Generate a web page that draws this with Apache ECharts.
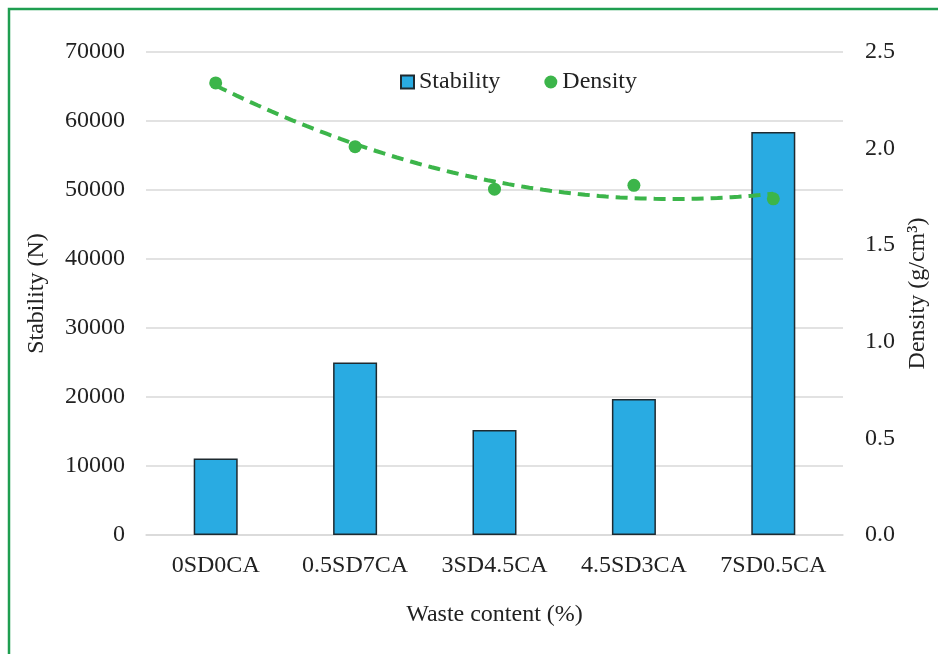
<!DOCTYPE html>
<html>
<head>
<meta charset="utf-8">
<script src="https://cdn.jsdelivr.net/npm/echarts@6/dist/echarts.min.js"></script>
<style>
  html, body { margin: 0; padding: 0; background: #fff; }
  #chart { width: 938px; height: 654px; }
</style>
</head>
<body>
<div id="chart"></div>
<script>
// Mix designations
const categories = ['0SD0CA', '0.5SD7CA', '3SD4.5CA', '4.5SD3CA', '7SD0.5CA'];
// Marshall stability (N)
const stability = [11100, 25000, 15200, 19700, 58400];
// Bulk density (g/cm3)
const density = [2.34, 2.01, 1.79, 1.81, 1.74];
// Axis ticks
const stabilityTicks = { min: 0, max: 70000, interval: 10000 };
const densityTicks = { min: 0, max: 2.5, interval: 0.5 };

// Second-order polynomial trendline fitted to the density points (least squares)
function quadraticFit(ys) {
  let s = [0, 0, 0, 0, 0], t = [0, 0, 0];
  ys.forEach((y, x) => {
    for (let k = 0; k < 5; k++) s[k] += Math.pow(x, k);
    for (let k = 0; k < 3; k++) t[k] += y * Math.pow(x, k);
  });
  // Normal equations, solved by Cramer's rule
  const M = [[s[0], s[1], s[2]], [s[1], s[2], s[3]], [s[2], s[3], s[4]]];
  const det = m => m[0][0]*(m[1][1]*m[2][2]-m[1][2]*m[2][1])
                 - m[0][1]*(m[1][0]*m[2][2]-m[1][2]*m[2][0])
                 + m[0][2]*(m[1][0]*m[2][1]-m[1][1]*m[2][0]);
  const D = det(M);
  const coef = [0, 1, 2].map(c => det(M.map((row, r) => row.map((v, j) => j === c ? t[r] : v))) / D);
  return x => coef[0] + coef[1] * x + coef[2] * x * x;
}
const trend = quadraticFit(density);
const trendPoints = [];
for (let i = 0; i <= 80; i++) {
  const x = i * (categories.length - 1) / 80;
  trendPoints.push([x, trend(x)]);
}

const serif = '"Liberation Serif", "Times New Roman", serif';
const textColor = '#222222';
const green = '#3cb54a';
const fs = 24;

const chart = echarts.init(document.getElementById('chart'), null, { renderer: 'canvas' });
chart.setOption({
  backgroundColor: '#ffffff',
  animation: false,
  textStyle: { fontFamily: serif },
  graphic: [{
    type: 'rect',
    shape: { x: 9, y: 9, width: 1000, height: 1000 },
    style: { fill: 'none', stroke: '#1f9e50', lineWidth: 2.5 },
    silent: true
  }],
  grid: { left: 146, right: 95, top: 52, bottom: 119 },
  legend: {
    data: [
      { name: 'Stability', icon: 'rect' },
      { name: 'Density', icon: 'circle' }
    ],
    left: 395,
    top: 65,
    itemWidth: 13,
    itemHeight: 13,
    itemGap: 44,
    textStyle: { fontFamily: serif, fontSize: fs, color: textColor }
  },
  xAxis: [{
    type: 'category',
    data: categories,
    boundaryGap: true,
    axisLine: { show: true, lineStyle: { color: '#d9d9d9', width: 1.5 } },
    axisTick: { show: false },
    axisLabel: { fontFamily: serif, fontSize: fs, color: textColor, margin: 19 },
    name: 'Waste content (%)',
    nameLocation: 'middle',
    nameGap: 68,
    nameTextStyle: { fontFamily: serif, fontSize: fs, color: textColor }
  }, {
    type: 'value',
    min: -0.5,
    max: categories.length - 0.5,
    show: false
  }],
  yAxis: [{
    type: 'value',
    min: stabilityTicks.min,
    max: stabilityTicks.max,
    interval: stabilityTicks.interval,
    axisLine: { show: false },
    axisTick: { show: false },
    splitLine: { lineStyle: { color: '#d9d9d9', width: 1.5 } },
    axisLabel: {
      fontFamily: serif, fontSize: fs, color: textColor, margin: 21,
      formatter: v => String(v)
    },
    name: 'Stability (N)',
    nameLocation: 'middle',
    nameRotate: 90,
    nameGap: 97,
    nameTextStyle: { fontFamily: serif, fontSize: fs, color: textColor }
  }, {
    type: 'value',
    min: densityTicks.min,
    max: densityTicks.max,
    interval: densityTicks.interval,
    axisLine: { show: false },
    axisTick: { show: false },
    splitLine: { show: false },
    axisLabel: {
      fontFamily: serif, fontSize: fs, color: textColor, margin: 22,
      formatter: v => v.toFixed(1)
    },
    name: 'Density (g/cm³)',
    nameLocation: 'middle',
    nameRotate: 90,
    nameGap: 62,
    nameTextStyle: { fontFamily: serif, fontSize: fs, color: textColor }
  }],
  series: [{
    name: 'Stability',
    type: 'bar',
    data: stability,
    barWidth: 44,
    itemStyle: { color: '#29abe2', borderColor: '#1e2a30', borderWidth: 1.5 }
  }, {
    name: 'Density trend',
    type: 'line',
    xAxisIndex: 1,
    yAxisIndex: 1,
    data: trendPoints,
    showSymbol: false,
    lineStyle: { color: green, width: 4, type: [12, 7] },
    silent: true,
    z: 3
  }, {
    name: 'Density',
    type: 'scatter',
    yAxisIndex: 1,
    data: density,
    symbol: 'circle',
    symbolSize: 13,
    itemStyle: { color: green, opacity: 1 },
    z: 4
  }]
});
</script>
</body>
</html>
